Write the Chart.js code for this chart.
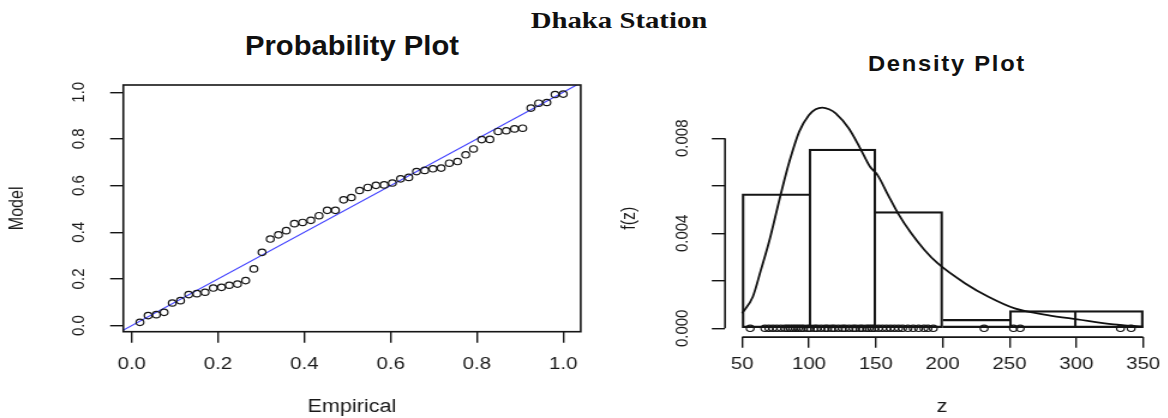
<!DOCTYPE html>
<html>
<head>
<meta charset="utf-8">
<script src="https://cdn.jsdelivr.net/npm/chart.js@4.4.1/dist/chart.umd.min.js"></script>
<style>
html,body{margin:0;padding:0;background:#fff;width:1168px;height:418px;overflow:hidden;position:relative;}
.cv{position:absolute;top:0;transform-origin:0 0;transform:scaleX(1.2);}
.ttl{position:absolute;white-space:nowrap;color:#111;line-height:1;}
</style>
</head>
<body>
<div class="ttl" style="left:619px;top:21px;transform:translate(-50%,-50%) scaleX(1.25);font:bold 23px 'Liberation Serif','DejaVu Serif',serif;">Dhaka Station</div>
<div class="ttl" style="left:352px;top:46px;transform:translate(-50%,-50%) scaleX(1.08);font:bold 27px 'Liberation Sans',Arial,sans-serif;">Probability Plot</div>
<div class="ttl" style="left:947px;top:64px;transform:translate(-50%,-50%) scaleX(1.08);font:bold 22px 'Liberation Sans',Arial,sans-serif;letter-spacing:1.6px;">Density Plot</div>
<canvas id="c1" class="cv" width="500" height="418" style="left:0;width:500px;height:418px"></canvas>
<canvas id="c2" class="cv" width="473" height="418" style="left:600px;width:473px;height:418px"></canvas>
<script>
// ---- Probability plot data ----
const ppEmpirical = [0.019,0.038,0.057,0.075,0.094,0.113,0.132,0.151,0.170,0.189,0.208,0.226,0.245,0.264,0.283,0.302,0.321,0.340,0.358,0.377,0.396,0.415,0.434,0.453,0.472,0.491,0.509,0.528,0.547,0.566,0.585,0.604,0.623,0.642,0.660,0.679,0.698,0.717,0.736,0.755,0.774,0.792,0.811,0.830,0.849,0.868,0.887,0.906,0.925,0.943,0.962,0.981,1.000];
const ppModel = [0.014,0.043,0.047,0.057,0.097,0.107,0.133,0.137,0.143,0.161,0.164,0.173,0.178,0.193,0.243,0.314,0.371,0.389,0.407,0.437,0.442,0.451,0.471,0.494,0.494,0.539,0.549,0.579,0.592,0.601,0.603,0.611,0.629,0.635,0.660,0.665,0.672,0.675,0.696,0.703,0.732,0.757,0.797,0.798,0.832,0.835,0.843,0.846,0.932,0.953,0.956,0.990,0.992];
const refLine = [-0.05, 1.05];            // y = x reference line
const ppTicks = [0, 0.2, 0.4, 0.6, 0.8, 1.0];
const ppTickLabels = ['0.0','0.2','0.4','0.6','0.8','1.0'];

// ---- Density plot data ----
const histBreaks = [50, 100, 150, 200, 250, 300, 350];
const histDensity = [0.00566, 0.00755, 0.00491, 0.00038, 0.00075, 0.00075];
const curveZ = [50, 58, 64, 70.5, 76.6, 80.3, 85.3, 92.7, 100, 105, 110, 115, 120, 129.7, 138.3, 145.7, 151.3, 159.2, 166.6, 176.5, 186.4, 196.2, 216.9, 234.2, 253.9, 278.5, 300.7, 327.9, 350];
const curveF = [0.00063, 0.00133, 0.00245, 0.00372, 0.00512, 0.00596, 0.00701, 0.00828, 0.00898, 0.00922, 0.00929, 0.00922, 0.00905, 0.00842, 0.00758, 0.0068, 0.00645, 0.00561, 0.00484, 0.004, 0.0033, 0.00274, 0.00189, 0.00133, 0.00084, 0.00056, 0.00038, 0.00017, 0.00007];
const rugZ = [56,67,70,73,76,79,82,84,86,88,90,92,94,96,99,
  101,104,106,109,112,114,117,119,122,125,127,130,133,135,138,140,143,145,147,149,
  152,155,158,161,164,167,170,174,178,182,186,189,193,
  231, 253, 258, 333, 341];
const densXTicks = [50, 100, 150, 200, 250, 300, 350];
const densYTicks = [0, 0.002, 0.004, 0.006, 0.008];
const densYLabels = ['0.000', '', '0.004', '', '0.008'];

Chart.defaults.font.family = "'Liberation Sans', Arial, sans-serif";
Chart.defaults.color = '#1a1a1a';

const INK = '#151515';

// R-style frame / axis lines
const rAxes = {
  id: 'rAxes',
  afterDatasetsDraw(chart, args, opts) {
    const {ctx, chartArea: a, scales} = chart;
    ctx.save();
    ctx.strokeStyle = INK;
    ctx.lineWidth = 1.6;
    if (opts.box) {
      ctx.strokeRect(a.left, a.top, a.right - a.left, a.bottom - a.top);
    } else {
      const x = scales.x, y = scales.y;
      ctx.beginPath();
      ctx.moveTo(x.getPixelForValue(x.ticks[0].value), a.bottom);
      ctx.lineTo(x.getPixelForValue(x.ticks[x.ticks.length - 1].value), a.bottom);
      ctx.moveTo(a.left, y.getPixelForValue(y.ticks[0].value));
      ctx.lineTo(a.left, y.getPixelForValue(y.ticks[y.ticks.length - 1].value));
      ctx.stroke();
    }
    ctx.restore();
  }
};

// ---------- Chart 1: Probability Plot ----------
new Chart(document.getElementById('c1'), {
  type: 'scatter',
  data: {
    datasets: [
      {
        type: 'line',
        data: refLine.map(v => ({x: v, y: v})),
        borderColor: '#3d3dff',
        borderWidth: 1.1,
        pointRadius: 0,
        order: 2
      },
      {
        type: 'scatter',
        data: ppEmpirical.map((x, i) => ({x: x, y: ppModel[i]})),
        pointStyle: 'circle',
        pointRadius: 3.2,
        borderColor: INK,
        borderWidth: 1.2,
        backgroundColor: 'rgba(0,0,0,0)',
        order: 1
      }
    ]
  },
  options: {
    responsive: false,
    animation: false,
    devicePixelRatio: 1,
    layout: {padding: {left: 0, top: 85, right: 16.08, bottom: 0}},
    plugins: {legend: {display: false}, tooltip: {enabled: false}, rAxes: {box: true}},
    scales: {
      x: {
        type: 'linear', min: -0.0195, max: 1.0405,
        afterBuildTicks: s => { s.ticks = ppTicks.map(v => ({value: v})); },
        afterFit: s => { s.height = 86.3; },
        grid: {drawOnChartArea: false, drawTicks: true, tickLength: 11, color: INK, lineWidth: 1.4},
        border: {display: false},
        ticks: {autoSkip: false, padding: 11, minRotation: 0, maxRotation: 0, font: {size: 17},
          callback: (v, i) => ppTickLabels[i]},
        title: {display: true, text: 'Empirical', font: {size: 18}, padding: {top: 0, bottom: 0.2}}
      },
      y: {
        type: 'linear', min: -0.026, max: 1.031,
        afterBuildTicks: s => { s.ticks = ppTicks.map(v => ({value: v})); },
        afterFit: s => { s.width = 102.75; },
        grid: {drawOnChartArea: false, drawTicks: true, tickLength: 11, color: INK, lineWidth: 1.4},
        border: {display: false},
        ticks: {autoSkip: false, padding: 15.5, minRotation: 90, maxRotation: 90, crossAlign: 'center',
          font: {size: 15}, callback: (v, i) => ppTickLabels[i]},
        title: {display: true, text: 'Model', font: {size: 16}, padding: {top: 4.5, bottom: 0}}
      }
    }
  },
  plugins: [rAxes]
});

// ---------- Chart 2: Density Plot ----------
const lastBar = histDensity.length - 1;
new Chart(document.getElementById('c2'), {
  type: 'bar',
  data: {
    datasets: [
      {
        type: 'bar',
        data: histDensity.map((d, i) => ({x: (histBreaks[i] + histBreaks[i + 1]) / 2, y: d})),
        backgroundColor: 'rgba(0,0,0,0)',
        borderColor: INK,
        borderSkipped: false,
        borderWidth: ctx => {
          const i = ctx.dataIndex, h = histDensity[i];
          const left = (i === 0 || h > histDensity[i - 1]) ? 1.5 : 0;
          const right = (i === lastBar || h >= histDensity[i + 1]) ? 1.5 : 0;
          return {top: 1.6, bottom: 1.6, left: left, right: right};
        },
        barPercentage: 1,
        categoryPercentage: 1,
        order: 3
      },
      {
        type: 'line',
        data: curveZ.map((z, i) => ({x: z, y: curveF[i]})),
        borderColor: '#111',
        borderWidth: 1.8,
        pointRadius: 0,
        cubicInterpolationMode: 'monotone',
        order: 2
      },
      {
        type: 'scatter',
        data: rugZ.map(z => ({x: z, y: 0})),
        pointStyle: 'circle',
        pointRadius: 3.2,
        borderColor: INK,
        borderWidth: 1.2,
        backgroundColor: 'rgba(0,0,0,0)',
        order: 1
      }
    ]
  },
  options: {
    responsive: false,
    animation: false,
    devicePixelRatio: 1,
    layout: {padding: {left: 0, top: 99.1, right: 2.83, bottom: 0}},
    plugins: {legend: {display: false}, tooltip: {enabled: false}, rAxes: {box: false}},
    scales: {
      x: {
        type: 'linear', min: 37.2, max: 362, offset: false,
        afterBuildTicks: s => { s.ticks = densXTicks.map(v => ({value: v})); },
        afterFit: s => { s.height = 80.9; },
        grid: {offset: false, drawOnChartArea: false, drawTicks: true, tickLength: 10.7, color: INK, lineWidth: 1.4},
        border: {display: false},
        ticks: {autoSkip: false, padding: 6, minRotation: 0, maxRotation: 0, font: {size: 17},
          callback: (v, i) => String(densXTicks[i])},
        title: {display: true, text: 'z', font: {size: 18}, padding: {top: 0, bottom: 0}}
      },
      y: {
        type: 'linear', min: -0.00037, max: 0.00965,
        afterBuildTicks: s => { s.ticks = densYTicks.map(v => ({value: v})); },
        afterFit: s => { s.width = 104.17; },
        grid: {drawOnChartArea: false, drawTicks: true, tickLength: 11, color: INK, lineWidth: 1.4},
        border: {display: false},
        ticks: {autoSkip: false, padding: 5.2, minRotation: 90, maxRotation: 90, crossAlign: 'center',
          font: {size: 15}, callback: (v, i) => densYLabels[i]},
        title: {display: true, text: 'f(z)', font: {size: 16}, padding: {top: 15.4, bottom: 0}}
      }
    }
  },
  plugins: [rAxes]
});
</script>
</body>
</html>
